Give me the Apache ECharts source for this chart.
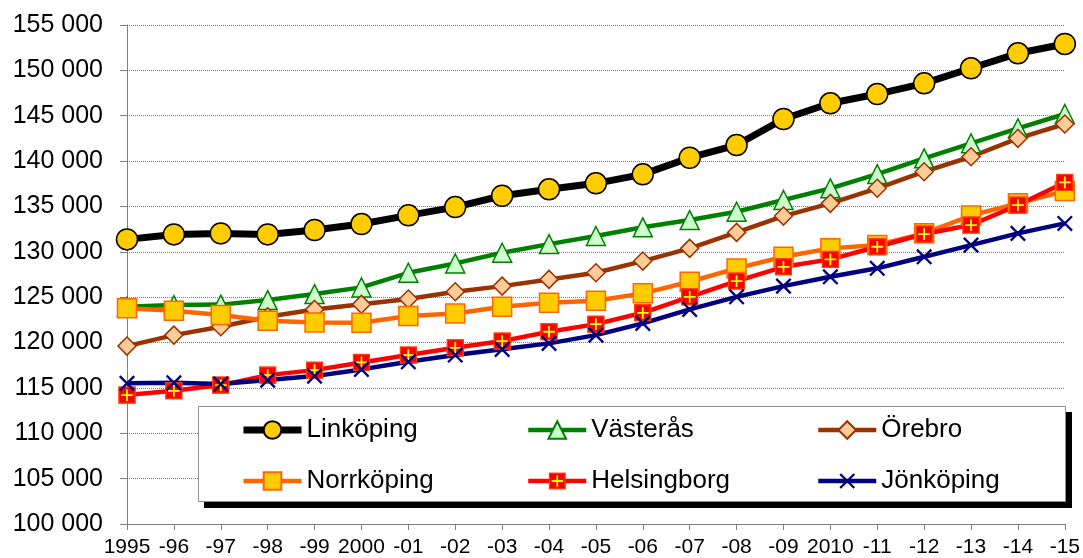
<!DOCTYPE html>
<html lang="sv">
<head>
    <meta charset="UTF-8">
    <title>Befolkning</title>
    <script src="https://cdn.jsdelivr.net/npm/echarts@6/dist/echarts.min.js"></script>
    <style>
        html, body { margin: 0; padding: 0; background: #fff; }
        #chart { width: 1083px; height: 558px; }
    </style>
</head>
<body>
<div id="chart"></div>
<script>
    // years on the x axis
    var years = ['1995', '-96', '-97', '-98', '-99', '2000', '-01', '-02', '-03', '-04', '-05',
        '-06', '-07', '-08', '-09', '2010', '-11', '-12', '-13', '-14', '-15'];

    var linkoping = [131370, 131920, 132030, 131920, 132400, 133060, 134020, 134930, 136180, 136890, 137550,
        138540, 140370, 141770, 144640, 146370, 147390, 148570, 150230, 151880, 152910];
    var vasteras = [123940, 124130, 124180, 124680, 125340, 126080, 127690, 128720, 129900, 130850, 131740,
        132700, 133500, 134420, 135710, 137000, 138570, 140300, 141960, 143610, 145190];
    var orebro = [119610, 120820, 121740, 122840, 123650, 124210, 124790, 125600, 126220, 126960, 127690,
        128980, 130380, 132140, 133940, 135340, 137000, 138830, 140480, 142510, 144090];
    var norrkoping = [123770, 123500, 123030, 122400, 122220, 122180, 122920, 123210, 123940, 124380, 124600,
        125420, 126700, 128170, 129450, 130380, 130750, 132040, 134000, 135340, 136700];
    var helsingborg = [114210, 114680, 115310, 116410, 116960, 117810, 118620, 119420, 120160, 121190, 122030,
        123280, 125040, 126780, 128350, 129170, 130560, 131960, 132950, 135150, 137650];
    var jonkoping = [115500, 115560, 115420, 115860, 116300, 117040, 117880, 118620, 119250, 119910, 120820,
        122110, 123650, 125040, 126220, 127250, 128180, 129450, 130740, 132030, 133130];

    function svgIcon(body) {
        return 'image://data:image/svg+xml;charset=utf-8,' + encodeURIComponent(
            '<svg xmlns="http://www.w3.org/2000/svg" width="20" height="20" viewBox="0 0 20 20">' + body + '</svg>');
    }
    var crossSquare = svgIcon('<rect x="1" y="1" width="18" height="18" fill="#FF0000" stroke="#FF4000" stroke-width="1.5"/>' +
        '<path d="M10 3.5V16.5M3.5 10H16.5" stroke="#FFFF00" stroke-width="2"/>');
    var xMark = svgIcon('<path d="M2 2L18 18M18 2L2 18" stroke="#000080" stroke-width="2.6"/>');

    function fmt(v) {
        return String(v).replace(/\B(?=(\d{3})+(?!\d))/g, ' ');
    }

    var chart = echarts.init(document.getElementById('chart'), null, {renderer: 'canvas'});

    function line(name, data, color, width, symbol, size, fill, border) {
        return {
            name: name,
            type: 'line',
            data: data,
            symbol: symbol,
            symbolSize: size,
            showAllSymbol: true,
            animation: false,
            lineStyle: {color: color, width: width},
            itemStyle: {color: fill, borderColor: border, borderWidth: 1.5, opacity: 1}
        };
    }

    var legendText = {fontFamily: 'Liberation Sans, Arial', fontSize: 26, color: '#000'};
    function legendCol(names, left) {
        return {
            data: names, orient: 'vertical', left: left, top: 417, padding: 0,
            itemWidth: 58, itemHeight: 22, itemGap: 25,
            lineStyle: {width: 'inherit'},
            textStyle: legendText, z: 100
        };
    }

    var option = {
        animation: false,
        textStyle: {fontFamily: 'Liberation Sans, Arial'},
        grid: {left: 127, right: 17, top: 25, bottom: 33},
        graphic: [
            {type: 'rect', shape: {x: 204, y: 412, width: 868, height: 96}, style: {fill: '#000'}, z: 90},
            {type: 'rect', shape: {x: 198.5, y: 406.5, width: 867, height: 95}, style: {fill: '#fff', stroke: '#909090', lineWidth: 1}, z: 91}
        ],
        legend: [
            legendCol(['Linköping', 'Norrköping'], 240),
            legendCol(['Västerås', 'Helsingborg'], 526),
            legendCol(['Örebro', 'Jönköping'], 816)
        ],
        xAxis: {
            type: 'category',
            data: years,
            boundaryGap: false,
            axisLine: {lineStyle: {color: '#808080', width: 1}},
            axisTick: {length: 6, lineStyle: {color: '#808080'}},
            axisLabel: {interval: 0, fontSize: 21, color: '#000', margin: 13, fontFamily: 'Liberation Sans, Arial'}
        },
        yAxis: {
            type: 'value',
            min: 100000,
            max: 155000,
            interval: 5000,
            axisLine: {show: true, lineStyle: {color: '#808080', width: 1}},
            axisTick: {show: true, length: 7, lineStyle: {color: '#808080'}},
            axisLabel: {fontSize: 25, color: '#000', margin: 24, formatter: fmt, fontFamily: 'Liberation Sans, Arial'},
            splitLine: {lineStyle: {color: '#808080', type: [1, 1], width: 1}}
        },
        series: [
            line('Linköping', linkoping, '#000000', 7, 'circle', 21, '#FFCC00', '#000000'),
            line('Västerås', vasteras, '#008000', 4.5, 'triangle', 19, '#CCFFCC', '#008000'),
            line('Örebro', orebro, '#993300', 4.5, 'diamond', 18, '#FFCC99', '#993300'),
            line('Norrköping', norrkoping, '#FF6600', 4.5, 'rect', 19, '#FFCC00', '#FF6600'),
            line('Helsingborg', helsingborg, '#FF0000', 4.5, crossSquare, 18, '#FF0000', '#FF0000'),
            line('Jönköping', jonkoping, '#000080', 4.5, xMark, 18, '#000080', '#000080')
        ]
    };
    chart.setOption(option);
</script>
</body>
</html>
